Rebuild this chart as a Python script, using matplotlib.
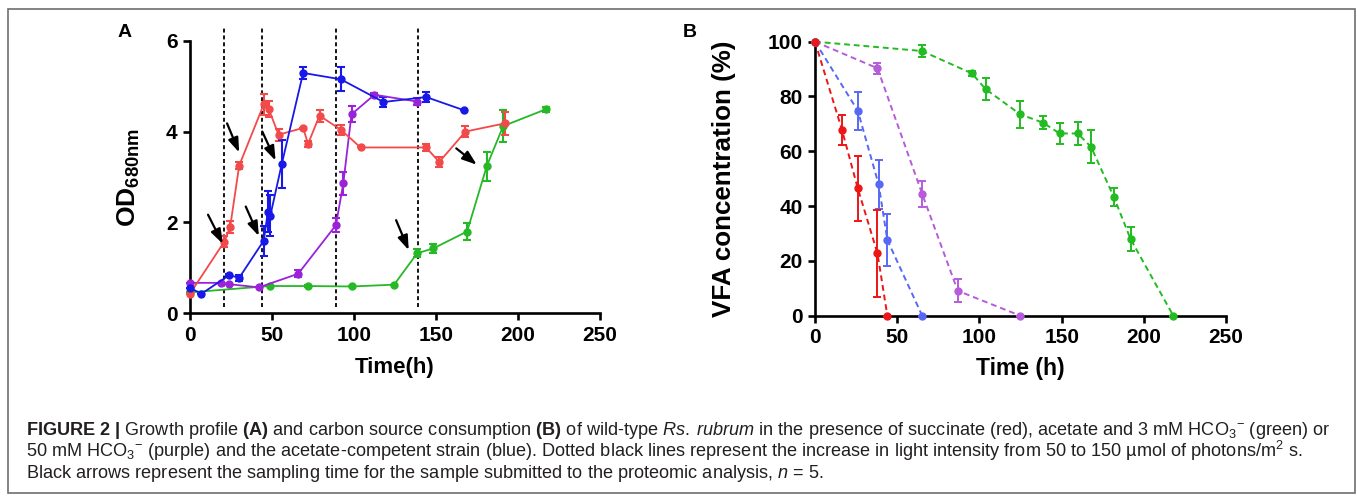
import numpy as np
import matplotlib
matplotlib.use('Agg')
import matplotlib.pyplot as plt
from matplotlib import font_manager
from matplotlib.patches import Rectangle

# ---------------- DATOS PANEL A (OD680nm) ----------------
red_t = [0, 21, 24.5, 30, 45, 48, 54, 69, 72, 79, 92, 104, 144, 152, 168, 192]
red_od = [0.43, 1.58, 1.9, 3.25, 4.6, 4.5, 3.93, 4.08, 3.73, 4.35, 4.04, 3.65, 3.65, 3.33, 4.0, 4.18]
red_err = [0, 0.13, 0.13, 0.07, 0.23, 0.18, 0.13, 0, 0.07, 0.13, 0.11, 0, 0.07, 0.12, 0.13, 0.25]

blue_t = [0, 7, 24, 30, 45, 47.5, 49, 56, 69, 92, 118, 144, 167]
blue_od = [0.56, 0.43, 0.84, 0.78, 1.6, 2.24, 2.15, 3.29, 5.29, 5.15, 4.65, 4.76, 4.47]
blue_err = [0, 0, 0.03, 0.07, 0.33, 0.46, 0.45, 0.53, 0.13, 0.26, 0.12, 0.12, 0]

purple_t = [0, 19, 24, 42, 66, 89, 93.5, 98.5, 112.5, 138.5]
purple_od = [0.67, 0.67, 0.64, 0.57, 0.87, 1.94, 2.86, 4.38, 4.81, 4.66]
purple_err = [0, 0, 0, 0, 0.08, 0.15, 0.26, 0.18, 0.03, 0.08]

green_t = [0, 48.5, 72, 98.5, 124.5, 138.5, 148.5, 169, 181, 191, 217]
green_od = [0.46, 0.6, 0.6, 0.59, 0.63, 1.32, 1.43, 1.8, 3.24, 4.12, 4.49]
green_err = [0, 0, 0.03, 0, 0, 0.09, 0.1, 0.18, 0.32, 0.35, 0.05]

# cambios de intensidad de luz (h)
light_t = [21, 44, 89, 139]

# flechas: (x inicio, y inicio, x fin, y fin)
arrows = [(11, 2.17, 20, 1.53), (22.6, 4.18, 30, 3.54), (34, 2.35, 42, 1.7),
          (44.1, 4.0, 52.2, 3.36), (125.7, 2.05, 133.4, 1.39), (162.4, 3.63, 174.9, 3.27)]

# ---------------- DATOS PANEL B (VFA %) ----------------
b_red_t = [0, 16.4, 26, 38, 44]
b_red = [100, 67.8, 46.5, 22.7, 0]
b_red_err = [0, 5.5, 11.8, 16, 0]

b_blue_t = [0, 26, 38.7, 44, 65.2]
b_blue = [100, 74.8, 47.9, 27.6, 0]
b_blue_err = [0, 7, 9, 9.4, 0]

b_purple_t = [0, 38, 65.2, 86.8, 124.8]
b_purple = [100, 90.3, 44.4, 9.1, 0]
b_purple_err = [0, 2.1, 4.6, 4.2, 0]

b_green_t = [0, 65, 95.5, 103.7, 124.8, 138.8, 148.8, 159.8, 167.9, 181.7, 191.9, 217.9]
b_green = [100, 96.6, 88.4, 82.7, 73.5, 70.4, 66.5, 66.5, 61.6, 43.4, 28, 0]
b_green_err = [0, 2.3, 1, 4, 4.9, 2.4, 3.8, 4.1, 6, 3.2, 4.4, 0]

# ---------------- FUENTES ----------------
nombres = {f.name for f in font_manager.fontManager.ttflist}
cap_font = 'Liberation Sans Narrow' if 'Liberation Sans Narrow' in nombres else 'Liberation Sans'
cap_size = 15.4 if cap_font == 'Liberation Sans Narrow' else 13.1

plt.rcParams['font.family'] = ['Liberation Sans', 'DejaVu Sans']
plt.rcParams['mathtext.fontset'] = 'custom'
plt.rcParams['mathtext.rm'] = cap_font
plt.rcParams['mathtext.it'] = cap_font + ':italic'
plt.rcParams['mathtext.bf'] = cap_font + ':bold'
plt.rcParams['mathtext.sf'] = 'Liberation Sans:bold'

# colores
cA = {'red': '#F24A4A', 'blue': '#1818E8', 'purple': '#9A22D8', 'green': '#26B826'}
cB = {'red': '#EC1616', 'blue': '#5868F4', 'purple': '#B65CDA', 'green': '#22BB22'}

fig = plt.figure(figsize=(13.57, 4.98), dpi=100)
axA = fig.add_axes([0.1400, 0.3709, 0.3021, 0.5474])
axB = fig.add_axes([0.6006, 0.3661, 0.3029, 0.5502])


def estilo(ax):
    for s in ['top', 'right']:
        ax.spines[s].set_visible(False)
    for s in ['left', 'bottom']:
        ax.spines[s].set_linewidth(1.9)
    ax.tick_params(direction='out', length=5, width=1.9, labelsize=15, pad=4)
    for lab in ax.get_xticklabels() + ax.get_yticklabels():
        lab.set_fontweight('bold')


# ---------------- PANEL A ----------------
for t in light_t:
    axA.plot([t, t], [0.13, 6.33], ls=(0, (2.2, 1.6)), color='k', lw=1.3, clip_on=False, zorder=1)

seriesA = [(green_t, green_od, green_err, 'green'), (purple_t, purple_od, purple_err, 'purple'),
           (red_t, red_od, red_err, 'red'), (blue_t, blue_od, blue_err, 'blue')]
for t, y, e, c in seriesA:
    axA.errorbar(t, y, yerr=e, fmt='o-', color=cA[c], ms=5, lw=1.3, elinewidth=1.5,
                 capsize=3, capthick=1.5, clip_on=False, zorder=3)

for x0, y0, x1, y1 in arrows:
    axA.annotate('', xy=(x1, y1), xytext=(x0, y0),
                 arrowprops=dict(arrowstyle='-|>,head_length=0.62,head_width=0.22', color='k', lw=1.6,
                                 mutation_scale=14, shrinkA=0, shrinkB=0), zorder=4)

axA.set_xlim(0, 250)
axA.set_ylim(0, 6)
axA.set_xticks([0, 50, 100, 150, 200, 250])
axA.set_yticks([0, 2, 4, 6])
estilo(axA)
axA.set_xlabel('Time(h)', fontsize=16, fontweight='bold', labelpad=9)
axA.set_ylabel(r'OD$_{\mathsf{680nm}}$', fontsize=19, fontweight='bold', labelpad=17)

# ---------------- PANEL B ----------------
seriesB = [(b_green_t, b_green, b_green_err, 'green'), (b_purple_t, b_purple, b_purple_err, 'purple'),
           (b_blue_t, b_blue, b_blue_err, 'blue'), (b_red_t, b_red, b_red_err, 'red')]
for t, y, e, c in seriesB:
    axB.errorbar(t, y, yerr=e, fmt='o', ls=(0, (3, 2)), color=cB[c], ms=5, lw=1.4, elinewidth=1.4,
                 capsize=3, capthick=1.4, clip_on=False, zorder=3)

axB.set_xlim(0, 250)
axB.set_ylim(0, 100)
axB.set_xticks([0, 50, 100, 150, 200, 250])
axB.set_yticks([0, 20, 40, 60, 80, 100])
estilo(axB)
axB.set_xlabel('Time (h)', fontsize=16.5, fontweight='bold', labelpad=7)
axB.set_ylabel('VFA concentration (%)', fontsize=18.7, fontweight='bold', labelpad=23)

# letras de panel
fig.text(0.092, 0.934, 'A', fontsize=14, fontweight='bold', ha='center', va='center')
fig.text(0.5085, 0.934, 'B', fontsize=14, fontweight='bold', ha='center', va='center')

# ---------------- PIE DE FIGURA ----------------
linea1 = (r'$\mathbf{FIGURE\ 2\ |}$ Growth profile $\mathbf{(A)}$ and carbon source consumption '
          r'$\mathbf{(B)}$ of wild-type $\mathit{Rs.\:rubrum}$ in the presence of succinate (red), '
          r'acetate and 3 mM HCO$_3$$^{-}$ (green) or')
linea2 = (r'50 mM HCO$_3$$^{-}$ (purple) and the acetate-competent strain (blue). Dotted black lines '
          r'represent the increase in light intensity from 50 to 150 µmol of photons/m$^2$ s.')
linea3 = r'Black arrows represent the sampling time for the sample submitted to the proteomic analysis, $\mathit{n}$ = 5.'
for txt, yb in [(linea1, 0.1265), (linea2, 0.0823), (linea3, 0.0402)]:
    fig.text(0.0192, yb, txt, fontsize=cap_size, family=cap_font, color='#231F20', va='baseline', ha='left')

# marco
fig.patches.append(Rectangle((8 / 1357, 1 - 493 / 498), 1347 / 1357, 484 / 498, transform=fig.transFigure,
                             fill=False, edgecolor='#6E6E6E', lw=1.2))

fig.savefig('out.png', dpi=100)
